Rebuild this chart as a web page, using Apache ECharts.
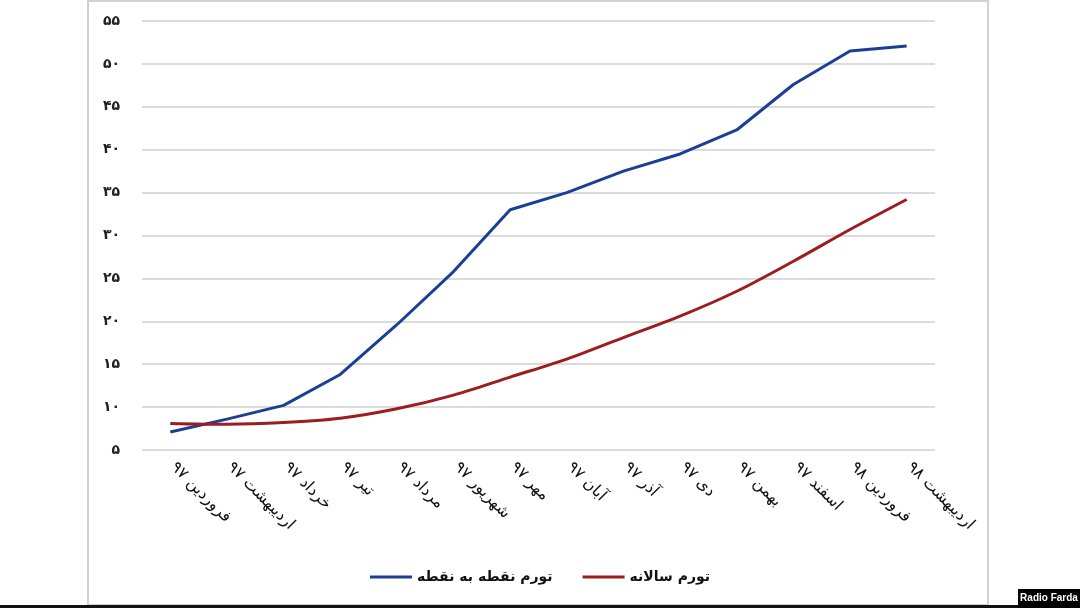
<!DOCTYPE html>
<html>
<head>
<meta charset="utf-8">
<script src="https://cdn.jsdelivr.net/npm/echarts@6/dist/echarts.min.js"></script>
<style>
html,body{margin:0;padding:0;background:#fff;}
#c{width:1080px;height:608px;}
</style>
</head>
<body>
<div id="c"></div>
<script>
const categories = ['فروردین ۹۷','اردیبهشت ۹۷','خرداد ۹۷','تیر ۹۷','مرداد ۹۷','شهریور ۹۷','مهر ۹۷','آبان ۹۷','آذر ۹۷','دی ۹۷','بهمن ۹۷','اسفند ۹۷','فروردین ۹۸','اردیبهشت ۹۸'];
const pointToPoint = [7.1, 8.6, 10.2, 13.8, 19.6, 25.8, 33.0, 35.0, 37.5, 39.5, 42.3, 47.6, 51.5, 52.1];
const annual = [8.1, 8.0, 8.2, 8.7, 9.8, 11.4, 13.5, 15.6, 18.1, 20.6, 23.5, 27.0, 30.7, 34.2];
const seriesNames = ['تورم نقطه به نقطه', 'تورم سالانه'];
const yMin = 5, yMax = 55, yStep = 5;
const faDigits = ['۰','۱','۲','۳','۴','۵','۶','۷','۸','۹'];
const toFa = v => String(v).replace(/[0-9]/g, d => faDigits[+d]);
const sourceLabel = 'Radio Farda';

const chart = echarts.init(document.getElementById('c'));
const FONT = 'DejaVu Sans';
chart.setOption({
  animation: false,
  backgroundColor: '#ffffff',
  textStyle: { fontFamily: FONT },
  grid: { left: 142, right: 145, top: 21, bottom: 158, containLabel: false },
  xAxis: {
    type: 'category',
    data: categories,
    boundaryGap: true,
    axisLine: { show: false },
    axisTick: { show: false },
    axisLabel: { rotate: -45, margin: 12, color: '#111', fontSize: 16, fontFamily: FONT, interval: 0, padding: [0, 0, 0, 4] }
  },
  yAxis: {
    type: 'value',
    min: yMin, max: yMax, interval: yStep,
    axisLine: { show: false },
    axisTick: { show: false },
    axisLabel: { formatter: v => toFa(v), margin: 22, color: '#222', fontSize: 14, fontWeight: 'bold', fontFamily: FONT },
    splitLine: { lineStyle: { color: '#cfcfcf', width: 1.5 } }
  },
  legend: {
    data: seriesNames,
    left: 'center',
    top: 565,
    icon: 'rect',
    itemWidth: 42,
    itemHeight: 3,
    itemGap: 30,
    textStyle: { fontSize: 14, fontWeight: 'bold', color: '#111', fontFamily: FONT }
  },
  series: [
    { name: seriesNames[0], type: 'line', data: pointToPoint, showSymbol: false, symbol: 'none',
      lineStyle: { color: '#1b3f95', width: 3 }, itemStyle: { color: '#1b3f95' } },
    { name: seriesNames[1], type: 'line', data: annual, showSymbol: false, symbol: 'none', smooth: 0.3,
      lineStyle: { color: '#9c1c1f', width: 3 }, itemStyle: { color: '#9c1c1f' } }
  ],
  graphic: [
    { type: 'rect', z: -1, shape: { x: 88, y: 1, width: 900, height: 604 }, style: { fill: 'none', stroke: '#d2d2d2', lineWidth: 2 } },
    { type: 'rect', shape: { x: 0, y: 605, width: 1080, height: 3 }, style: { fill: '#111' } },
    { type: 'rect', shape: { x: 1018, y: 589, width: 62, height: 19 }, style: { fill: '#000' } },
    { type: 'text', x: 1049, y: 598, style: { text: sourceLabel, fill: '#fff', font: 'bold 10px Liberation Sans', align: 'center', verticalAlign: 'middle' } }
  ]
});
</script>
</body>
</html>
